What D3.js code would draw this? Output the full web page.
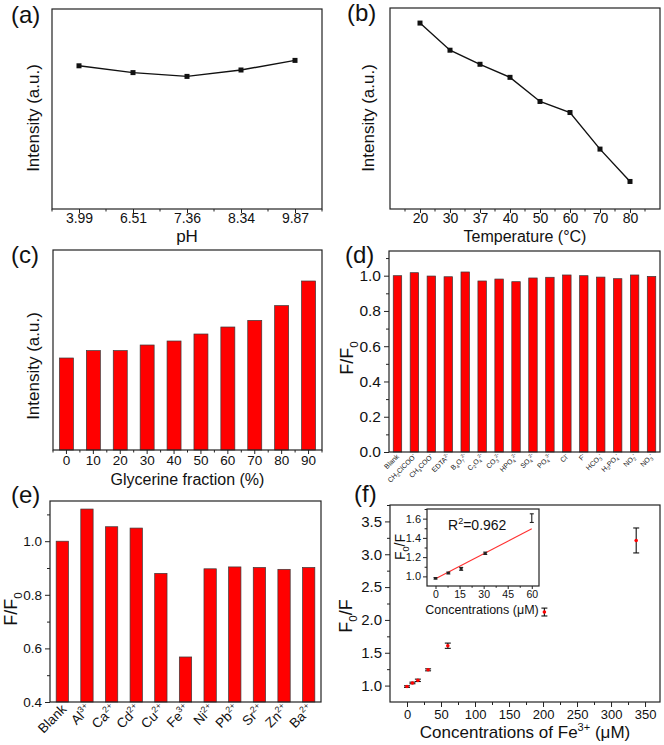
<!DOCTYPE html>
<html><head><meta charset="utf-8">
<script src="https://cdn.jsdelivr.net/npm/d3@7"></script>
<style>
body{margin:0;background:#fff}
svg{display:block}
text{font-family:Arial,"Liberation Sans",sans-serif;fill:#111}
</style>
</head><body>
<svg id="c" width="664" height="745"></svg>
<script>
// ---------- data ----------
const phLabels = ["3.99", "6.51", "7.36", "8.34", "9.87"];
const phValues = [71.6, 68.2, 66.3, 69.5, 74.3];

const tempLabels = ["20", "30", "37", "40", "50", "60", "70", "80"];
const tempValues = [92.5, 79, 72, 65.5, 53.5, 48, 29.8, 13.7];

const glyLabels = ["0", "10", "20", "30", "40", "50", "60", "70", "80", "90"];
const glyValues = [46, 49.7, 49.7, 52.5, 54.5, 58, 61.5, 64.8, 72.2, 84.5];

const anionLabels = ["Blank", "CH_{2}ClCOO^{-}", "CH_{3}COO^{-}", "EDTA^{2-}", "B_{4}O_{7}^{2-}",
  "C_{2}O_{4}^{2-}", "CO_{3}^{2-}", "HPO_{4}^{2-}", "SO_{4}^{2-}", "PO_{4}^{3-}", "Cl^{-}", "F^{-}",
  "HCO_{3}^{-}", "H_{2}PO_{4}^{-}", "NO_{2}^{-}", "NO_{3}^{-}"];
const anionValues = [1.0, 1.017, 0.998, 0.994, 1.021, 0.970, 0.981, 0.966, 0.987, 0.991,
  1.004, 1.0, 0.992, 0.983, 1.004, 0.996];

const metalLabels = ["Blank", "Al^{3+}", "Ca^{2+}", "Cd^{2+}", "Cu^{2+}", "Fe^{3+}", "Ni^{2+}",
  "Pb^{2+}", "Sr^{2+}", "Zn^{2+}", "Ba^{2+}"];
const metalValues = [1.0, 1.12, 1.054, 1.049, 0.880, 0.568, 0.897, 0.904, 0.902, 0.895, 0.902];

const feConc = [0, 8, 16, 31, 60, 202, 337];
const feRatio = [0.985, 1.04, 1.08, 1.24, 1.607, 2.12, 3.21];
const feErr = [0.012, 0.012, 0.018, 0.015, 0.04, 0.06, 0.19];

const insetConc = [0, 8, 16, 31, 60];
const insetRatio = [0.98, 1.035, 1.078, 1.24, 1.605];
const insetErr = [0.008, 0.01, 0.015, 0.012, 0.045];
const fitX = [0, 60];
const fitY = [0.975, 1.495];
const r2Label = "R^{2}=0.962";

const yTicksD = [0, 0.2, 0.4, 0.6, 0.8, 1.0];
const yTicksE = [0.4, 0.6, 0.8, 1.0];
const xTicksF = [0, 50, 100, 150, 200, 250, 300, 350];
const yTicksF = [1.0, 1.5, 2.0, 2.5, 3.0, 3.5];
const xTicksIn = [0, 15, 30, 45, 60];
const yTicksIn = [1.0, 1.2, 1.4, 1.6];

// ---------- helpers ----------
const svg = d3.select('#c');
const FONT = 'Arial, "Liberation Sans", sans-serif';
const INK = '#222';

function rich(t, str, fs) {
  const re = /(\^|_)\{([^}]*)\}/g;
  let last = 0, m, cur = 0;
  const segs = [];
  while ((m = re.exec(str))) {
    if (m.index > last) segs.push({ t: str.slice(last, m.index), k: 0 });
    segs.push({ t: m[2], k: m[1] === '^' ? 1 : -1 });
    last = re.lastIndex;
  }
  if (last < str.length) segs.push({ t: str.slice(last), k: 0 });
  segs.forEach(s => {
    const target = s.k === 1 ? -0.4 * fs : (s.k === -1 ? 0.25 * fs : 0);
    t.append('tspan').attr('dy', target - cur).attr('font-size', s.k ? fs * 0.65 : fs).text(s.t);
    cur = target;
  });
  return t;
}

function frame(b) {
  svg.append('rect').attr('x', b.x0).attr('y', b.y0)
    .attr('width', b.x1 - b.x0).attr('height', b.y1 - b.y0)
    .attr('fill', 'none').attr('stroke', INK).attr('stroke-width', 1.2);
}

function styleAxis(g, fs) {
  g.attr('font-family', FONT).attr('font-size', fs).attr('color', INK);
  g.select('.domain').remove();
  g.selectAll('.tick line').attr('stroke-width', 1);
  g.selectAll('.tick text').attr('fill', '#111');
}

function leftAxis(scale, b, majors, minors, fs, fmt, size = 5, pad = 3) {
  const g = svg.append('g').attr('transform', `translate(${b.x0},0)`)
    .call(d3.axisLeft(scale).tickValues(majors).tickSize(size).tickPadding(pad).tickFormat(fmt));
  styleAxis(g, fs);
  const g2 = svg.append('g').attr('transform', `translate(${b.x0},0)`)
    .call(d3.axisLeft(scale).tickValues(minors).tickSize(size * 0.6).tickFormat(''));
  styleAxis(g2, fs);
}

function bottomLinearAxis(scale, b, majors, minors, fs, fmt, size = 5, pad = 3) {
  const g = svg.append('g').attr('transform', `translate(0,${b.y1})`)
    .call(d3.axisBottom(scale).tickValues(majors).tickSize(size).tickPadding(pad).tickFormat(fmt));
  styleAxis(g, fs);
  const g2 = svg.append('g').attr('transform', `translate(0,${b.y1})`)
    .call(d3.axisBottom(scale).tickValues(minors).tickSize(size * 0.6).tickFormat(''));
  styleAxis(g2, fs);
}

function bottomCatAxis(scale, b, fs, minor, pad = 1) {
  const g = svg.append('g').attr('transform', `translate(0,${b.y1})`)
    .call(d3.axisBottom(scale).tickSize(4).tickPadding(pad));
  styleAxis(g, fs);
  if (minor) {
    const st = scale.step();
    const half = scale.bandwidth ? scale.bandwidth() / 2 : 0;
    const dom = scale.domain();
    const pos = dom.map(d => scale(d) + half + st / 2);
    pos.unshift(scale(dom[0]) + half - st / 2);
    svg.append('g').selectAll('line').data(pos).join('line')
      .attr('x1', d => d).attr('x2', d => d)
      .attr('y1', b.y1).attr('y2', b.y1 + 2.5)
      .attr('stroke', INK).attr('stroke-width', 1);
  }
}

function panelLabel(txt, x, y) {
  svg.append('text').attr('x', x).attr('y', y).attr('font-size', 24).text(txt);
}

function xTitle(str, x, y, fs) {
  rich(svg.append('text').attr('x', x).attr('y', y).attr('text-anchor', 'middle').attr('font-size', fs), str, fs);
}

function yTitle(str, x, y, fs) {
  rich(svg.append('text').attr('transform', `translate(${x},${y}) rotate(-90)`)
    .attr('text-anchor', 'middle').attr('font-size', fs), str, fs);
}

function lineChart(b, labels, values, padding) {
  const x = d3.scalePoint().domain(labels).range([b.x0, b.x1]).padding(padding);
  const y = d3.scaleLinear().domain([0, 100]).range([b.y1, b.y0]);
  svg.append('path').datum(values)
    .attr('d', d3.line().x((d, i) => x(labels[i])).y(d => y(d)))
    .attr('fill', 'none').attr('stroke', '#111').attr('stroke-width', 1.4);
  svg.append('g').selectAll('rect').data(values).join('rect')
    .attr('x', (d, i) => x(labels[i]) - 2.5).attr('y', d => y(d) - 2.5)
    .attr('width', 5).attr('height', 5).attr('fill', '#111');
  return x;
}

function bars(b, x, y, labels, values, base) {
  svg.append('g').selectAll('rect').data(values).join('rect')
    .attr('x', (d, i) => x(labels[i])).attr('width', x.bandwidth())
    .attr('y', d => y(d)).attr('height', d => y(base) - y(d))
    .attr('fill', '#ff0000').attr('stroke', '#3a3a3a').attr('stroke-width', 0.7);
}

// ---------- (a) ----------
const bA = { x0: 52, y0: 9, x1: 322, y1: 209 };
const xA = lineChart(bA, phLabels, phValues, 0.5);
frame(bA);
bottomCatAxis(xA, bA, 14, true, 0.5);
panelLabel('(a)', 11, 23);
yTitle('Intensity (a.u.)', 39, 118, 17);
xTitle('pH', (bA.x0 + bA.x1) / 2, 242, 17);

// ---------- (b) ----------
const bB = { x0: 390, y0: 8, x1: 660, y1: 209 };
const xB = lineChart(bB, tempLabels, tempValues, 1);
frame(bB);
bottomCatAxis(xB, bB, 14, true, 0.5);
panelLabel('(b)', 347, 21);
yTitle('Intensity (a.u.)', 374, 118, 17);
xTitle('Temperature (°C)', (bB.x0 + bB.x1) / 2, 242, 16);

// ---------- (c) ----------
const bC = { x0: 53, y0: 250, x1: 322, y1: 450 };
const xC = d3.scaleBand().domain(glyLabels).range([bC.x0, bC.x1]).paddingInner(0.48).paddingOuter(0.24);
const yC = d3.scaleLinear().domain([0, 100]).range([bC.y1, bC.y0]);
bars(bC, xC, yC, glyLabels, glyValues, 0);
frame(bC);
bottomCatAxis(xC, bC, 13.5, true, 1);
panelLabel('(c)', 11, 263);
yTitle('Intensity (a.u.)', 39, 366, 17);
xTitle('Glycerine fraction (%)', (bC.x0 + bC.x1) / 2, 485, 16);

// ---------- (d) ----------
const bD = { x0: 389, y0: 251, x1: 660, y1: 452 };
const xD = d3.scaleBand().domain(anionLabels).range([bD.x0, bD.x1]).paddingInner(0.5).paddingOuter(0.25);
const yD = d3.scaleLinear().domain([0, 1.14]).range([bD.y1, bD.y0]);
bars(bD, xD, yD, anionLabels, anionValues, 0);
frame(bD);
leftAxis(yD, bD, yTicksD, d3.range(0.1, 1.15, 0.2), 15.5, d3.format('.1f'));
anionLabels.forEach(l => {
  const cx = xD(l) + xD.bandwidth() / 2 + 2;
  rich(svg.append('text').attr('transform', `translate(${cx},457) rotate(-45)`)
    .attr('text-anchor', 'end').attr('font-size', 7), l, 7);
});
panelLabel('(d)', 345, 263);
yTitle('F/F_{0}', 353, 358, 18);

// ---------- (e) ----------
const bE = { x0: 50, y0: 501, x1: 321, y1: 702 };
const xE = d3.scaleBand().domain(metalLabels).range([bE.x0, bE.x1]).paddingInner(0.5).paddingOuter(0.25);
const yE = d3.scaleLinear().domain([0.4, 1.15]).range([bE.y1, bE.y0]);
bars(bE, xE, yE, metalLabels, metalValues, 0.4);
frame(bE);
leftAxis(yE, bE, yTicksE, d3.range(0.5, 1.15, 0.2), 13.5, d3.format('.1f'));
metalLabels.forEach(l => {
  const cx = xE(l) + xE.bandwidth() / 2 + 5;
  rich(svg.append('text').attr('transform', `translate(${cx},710) rotate(-45)`)
    .attr('text-anchor', 'end').attr('font-size', 13.5), l, 13.5);
});
panelLabel('(e)', 11, 503);
yTitle('F/F_{0}', 17, 609, 18);

// ---------- (f) ----------
const bF = { x0: 390, y0: 505, x1: 660, y1: 702 };
const xF = d3.scaleLinear().domain([-25, 372]).range([bF.x0, bF.x1]);
const yF = d3.scaleLinear().domain([0.75, 3.75]).range([bF.y1, bF.y0]);
frame(bF);
leftAxis(yF, bF, yTicksF, d3.range(1.25, 3.8, 0.5), 15, d3.format('.1f'));
bottomLinearAxis(xF, bF, xTicksF, d3.range(25, 372, 50), 13, d3.format('d'));

function errBars(x, y, xs, ys, es, cap, color) {
  const g = svg.append('g').attr('stroke', color).attr('stroke-width', 1.1);
  xs.forEach((xv, i) => {
    const px = x(xv), top = y(ys[i] + es[i]), bot = y(ys[i] - es[i]);
    g.append('line').attr('x1', px).attr('x2', px).attr('y1', top).attr('y2', bot);
    g.append('line').attr('x1', px - cap / 2).attr('x2', px + cap / 2).attr('y1', top).attr('y2', top);
    g.append('line').attr('x1', px - cap / 2).attr('x2', px + cap / 2).attr('y1', bot).attr('y2', bot);
  });
}
errBars(xF, yF, feConc, feRatio, feErr, 6, '#111');
svg.append('g').selectAll('circle').data(feRatio).join('circle')
  .attr('cx', (d, i) => xF(feConc[i])).attr('cy', d => yF(d)).attr('r', 1.8)
  .attr('fill', '#ff0000');
panelLabel('(f)', 354, 502);
yTitle('F_{0}/F', 352, 616, 18);
xTitle('Concentrations of Fe^{3+} (μM)', (bF.x0 + bF.x1) / 2, 738, 17);

// ---------- inset ----------
const bI = { x0: 427, y0: 509, x1: 539, y1: 586 };
const xI = d3.scaleLinear().domain([-5.3, 64.5]).range([bI.x0, bI.x1]);
const yI = d3.scaleLinear().domain([0.9, 1.7]).range([bI.y1, bI.y0]);
svg.append('rect').attr('x', bI.x0).attr('y', bI.y0).attr('width', bI.x1 - bI.x0)
  .attr('height', bI.y1 - bI.y0).attr('fill', '#fff');
svg.append('line').attr('x1', xI(fitX[0])).attr('y1', yI(fitY[0]))
  .attr('x2', xI(fitX[1])).attr('y2', yI(fitY[1]))
  .attr('stroke', '#ff3030').attr('stroke-width', 1.1);
errBars(xI, yI, insetConc, insetRatio, insetErr, 4, '#222');
svg.append('g').selectAll('rect').data(insetRatio.slice(0, 4)).join('rect')
  .attr('x', (d, i) => xI(insetConc[i]) - 1.5).attr('y', d => yI(d) - 1)
  .attr('width', 3).attr('height', 2).attr('fill', '#222');
frame(bI);
leftAxis(yI, bI, yTicksIn, d3.range(1.1, 1.75, 0.2), 11, d3.format('.1f'), 4, 2);
bottomLinearAxis(xI, bI, xTicksIn, d3.range(7.5, 64, 15), 10.5, d3.format('d'), 3, 1.5);
rich(svg.append('text').attr('x', 448).attr('y', 530).attr('font-size', 14), r2Label, 14);
yTitle('F_{0}/F', 405, 547, 14);
xTitle('Concentrations (μM)', 482, 614, 12.5);
</script>
</body></html>
